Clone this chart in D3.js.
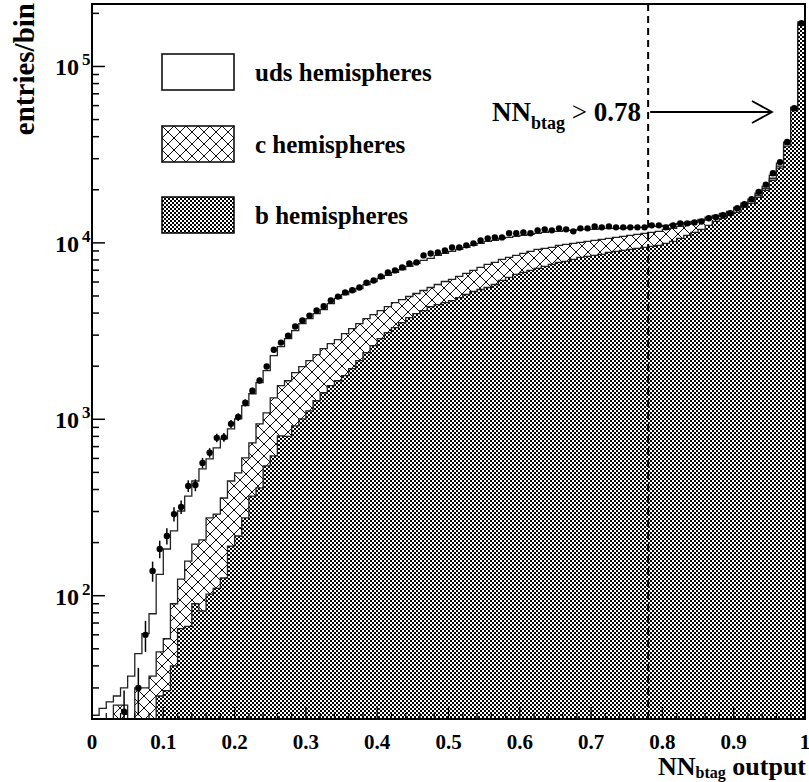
<!DOCTYPE html>
<html><head><meta charset="utf-8">
<script src="https://cdn.jsdelivr.net/npm/d3@7"></script>
<style>
body{margin:0;background:#fff}
text{font-family:"Liberation Serif","Times New Roman",serif;font-weight:bold;fill:#000}
</style>
</head><body><svg id="c" width="809" height="782"></svg>
<script>
// ---- data (entries per bin, 100 bins on [0,1]) ----
const xTickLabels = ["0","0.1","0.2","0.3","0.4","0.5","0.6","0.7","0.8","0.9","1"];
const yTickExponents = ["2","3","4","5"];
const legendLabels = ["uds hemispheres","c hemispheres","b hemispheres"];
const cutValue = 0.78;

const bCounts = [0,0,0,0,0,0,0,0,0,27,29,40,65,67,90,82,102,110,126,191,218,276,367,408,544,620,806,800,918,1006,1117,1274,1414,1550,1654,1767,1935,2150,2386,2616,2868,3102,3311,3533,3772,3974,4133,4357,4472,4590,4711,4900,5097,5300,5441,5585,5808,6122,6368,6622,6798,6978,7163,7353,7547,7748,7850,8058,8272,8381,8492,8604,8831,8948,9066,9186,9306,9427,9552,9680,9935,10200,10610,11030,11470,11930,12570,13250,13780,14330,14900,15900,16770,18140,19880,22650,26500,35340,56580,172100];
const cCounts = [0,0,0,24,24,15,30,30,35,21,28,50,59,90,106,125,174,180,232,256,279,328,368,534,544,704,744,854,919,982,1033,1051,1101,1135,1176,1296,1333,1337,1339,1309,1265,1255,1279,1240,1193,1189,1237,1228,1336,1450,1494,1552,1613,1678,1815,1962,1940,1936,1904,1870,1920,1970,2023,1953,1880,1932,1956,1877,1793,1819,1838,1866,1779,1797,1819,1844,1869,1898,1918,1940,1995,1890,1790,1705,1605,1485,1210,900,750,570,590,420,440,480,520,590,700,950,760,2300];
const udsCounts = [21,23,25,3,6,20,17,31,44,84,127,143,178,210,251,316,321,399,416,436,509,590,661,672,800,972,1032,1214,1346,1499,1575,1649,1675,1845,2010,2034,2032,2026,2083,2115,2152,2178,2208,2287,2388,2484,2586,2580,2684,2678,2743,2734,2717,2702,2679,2653,2582,2552,2473,2393,2312,2227,2139,2164,2193,1940,1974,1845,1865,1730,1600,1620,1480,1345,1205,1220,1075,925,930,780,640,645,500,340,175,185,195,180,180,200,410,450,460,490,550,930,1100,980,1540,4500];
const dataCounts = [0,0,0,0,22,0,30,60,138,184,218,290,318,419,424,566,646,785,790,942,1030,1240,1450,1660,1990,2480,2720,2980,3360,3630,3870,4140,4370,4710,4960,5240,5390,5590,5940,6120,6450,6800,6980,7260,7650,7750,8490,8710,8830,9060,9420,9420,9680,9940,10330,10610,10740,10740,11330,11330,11470,11330,11780,11930,11780,12090,11930,11620,12090,12090,12400,12250,12400,12250,12250,12250,12250,12250,12570,12570,12250,12570,12900,12900,13060,13230,13800,13980,14330,14710,15700,16550,17700,19470,21400,24800,28700,37300,58000,176000];
const dataErrors = [0,0,0,0,7,0,9,12,18,21,23,27,28,32,33,38,40,44,45,49,51,56,61,65,71,80,83,87,92,96,99,103,106,110,113,116,117,120,123,125,128,132,134,136,140,141,147,149,150,152,155,155,157,160,163,165,166,166,170,170,171,170,174,175,174,176,175,172,176,176,178,177,178,177,177,177,177,177,179,179,177,179,182,182,183,184,188,189,192,194,200,206,213,223,234,252,271,309,385,671];

// ---- layout ----
const L = 92, R = 805, T = 4, B = 719;
const svg = d3.select("#c");
const x = d3.scaleLinear().domain([0,1]).range([L,R]);
const y = d3.scaleLog().domain([20, 2.26e5]).range([B,T]);
const yMin = y.domain()[0];
const nb = bCounts.length;
const edges = d3.range(nb+1).map(i => i/nb);

// patterns
const defs = svg.append("defs");
const pc = defs.append("pattern").attr("id","cross").attr("patternUnits","userSpaceOnUse")
  .attr("width",12).attr("height",12);
pc.append("rect").attr("width",12).attr("height",12).attr("fill","#fff");
pc.append("path").attr("d","M0,0L12,12M12,0L0,12M-1,11L1,13M11,-1L13,1M-1,1L1,-1M11,13L13,11")
  .attr("stroke","#111").attr("stroke-width",1).attr("fill","none");
const pb = defs.append("pattern").attr("id","dots").attr("patternUnits","userSpaceOnUse")
  .attr("width",4).attr("height",4);
pb.append("rect").attr("width",4).attr("height",4).attr("fill","#000");
pb.append("rect").attr("x",0).attr("y",0).attr("width",2).attr("height",2).attr("fill","#fff");
pb.append("rect").attr("x",2).attr("y",2).attr("width",2).attr("height",2).attr("fill","#fff");
defs.append("clipPath").attr("id","clip").append("rect")
  .attr("x",L).attr("y",T).attr("width",R-L).attr("height",B-T);

// cumulative stacks
const cumB = bCounts.slice();
const cumC = bCounts.map((v,i)=>v+cCounts[i]);
const cumU = cumC.map((v,i)=>v+udsCounts[i]);

function yc(v){ return v < yMin ? B : y(v); }
function stepPts(vals){
  const pts = [[x(edges[0]), B]];
  vals.forEach((v,i)=>{ pts.push([x(edges[i]), yc(v)]); pts.push([x(edges[i+1]), yc(v)]); });
  pts.push([x(edges[nb]), B]);
  return pts;
}
const line = d3.line();
const plot = svg.append("g").attr("clip-path","url(#clip)");
[[cumU,"#fff"],[cumC,"url(#cross)"],[cumB,"url(#dots)"]].forEach(([vals,fill])=>{
  plot.append("path").attr("d", line(stepPts(vals))+"Z").attr("fill",fill)
    .attr("stroke","#222").attr("stroke-width",1.3).attr("stroke-linejoin","miter");
});

// data points
const dg = plot.append("g");
dataCounts.forEach((v,i)=>{
  if (v < yMin) return;
  const cx = x((edges[i]+edges[i+1])/2);
  const e = dataErrors[i];
  dg.append("line").attr("x1",cx).attr("x2",cx).attr("y1",yc(v+e)).attr("y2",yc(Math.max(v-e,yMin)))
    .attr("stroke","#000").attr("stroke-width",1.5);
  dg.append("circle").attr("cx",cx).attr("cy",y(v)).attr("r",3.2).attr("fill","#000");
});

// cut line
svg.append("line").attr("x1",x(cutValue)).attr("x2",x(cutValue)).attr("y1",T).attr("y2",B)
  .attr("stroke","#000").attr("stroke-width",2).attr("stroke-dasharray","7,5");

// frame
svg.append("rect").attr("x",L).attr("y",T).attr("width",R-L).attr("height",B-T)
  .attr("fill","none").attr("stroke","#000").attr("stroke-width",2);

// y ticks
const yt = svg.append("g");
for (let d=1; d<=5; d++){
  for (let k=1; k<=9; k++){
    const v = k*Math.pow(10,d);
    if (v < yMin || v > y.domain()[1]) continue;
    const len = k===1 ? 13 : 7;
    yt.append("line").attr("x1",L).attr("x2",L+len).attr("y1",y(v)).attr("y2",y(v))
      .attr("stroke","#000").attr("stroke-width",1.5);
  }
}
yTickExponents.forEach(ex=>{
  const v = Math.pow(10,+ex);
  yt.append("text").attr("x",79).attr("y",y(v)+9).attr("text-anchor","end")
    .attr("font-size",24).text("10");
  yt.append("text").attr("x",82).attr("y",y(v)-1).attr("font-size",17).text(ex);
});

// x ticks
const xt = svg.append("g");
d3.range(0,51).forEach(j=>{
  const v = j/50;
  const major = j%5===0;
  xt.append("line").attr("x1",x(v)).attr("x2",x(v)).attr("y1",B).attr("y2",B-(major?12:6))
    .attr("stroke","#000").attr("stroke-width",1.2);
});
xTickLabels.forEach((t,i)=>{
  xt.append("text").attr("x",x(i/10)).attr("y",749).attr("text-anchor","middle")
    .attr("font-size",21).text(t);
});

// axis titles
svg.append("text").attr("transform","translate(34,3) rotate(-90)").attr("text-anchor","end")
  .attr("font-size",29).text("entries/bin");
const xtitle = svg.append("text").attr("x",806).attr("y",775).attr("text-anchor","end").attr("font-size",26);
xtitle.append("tspan").text("NN");
xtitle.append("tspan").attr("font-size",16).attr("dy",3).text("btag");
xtitle.append("tspan").attr("dy",-3).text(" output");

// legend
const lg = svg.append("g");
const fills = ["#fff","url(#cross)","url(#dots)"];
const boxY = [54,126,197];
legendLabels.forEach((t,i)=>{
  lg.append("rect").attr("x",162).attr("y",boxY[i]).attr("width",72).attr("height",36)
    .attr("fill",fills[i]).attr("stroke","#000").attr("stroke-width",1.5);
  lg.append("text").attr("x",255).attr("y",boxY[i]+27).attr("font-size",25).text(t);
});

// annotation
const an = svg.append("text").attr("x",641).attr("y",121).attr("text-anchor","end").attr("font-size",27);
an.append("tspan").text("NN");
an.append("tspan").attr("font-size",18).attr("dy",8).text("btag");
an.append("tspan").attr("dy",-8).attr("font-weight","normal").text(" > ");
an.append("tspan").text("0.78");
svg.append("line").attr("x1",x(cutValue)+2).attr("x2",772).attr("y1",112).attr("y2",112)
  .attr("stroke","#000").attr("stroke-width",1.8);
svg.append("path").attr("d","M752,101L772,112L752,123").attr("fill","none")
  .attr("stroke","#000").attr("stroke-width",1.8);
</script>
</body></html>
